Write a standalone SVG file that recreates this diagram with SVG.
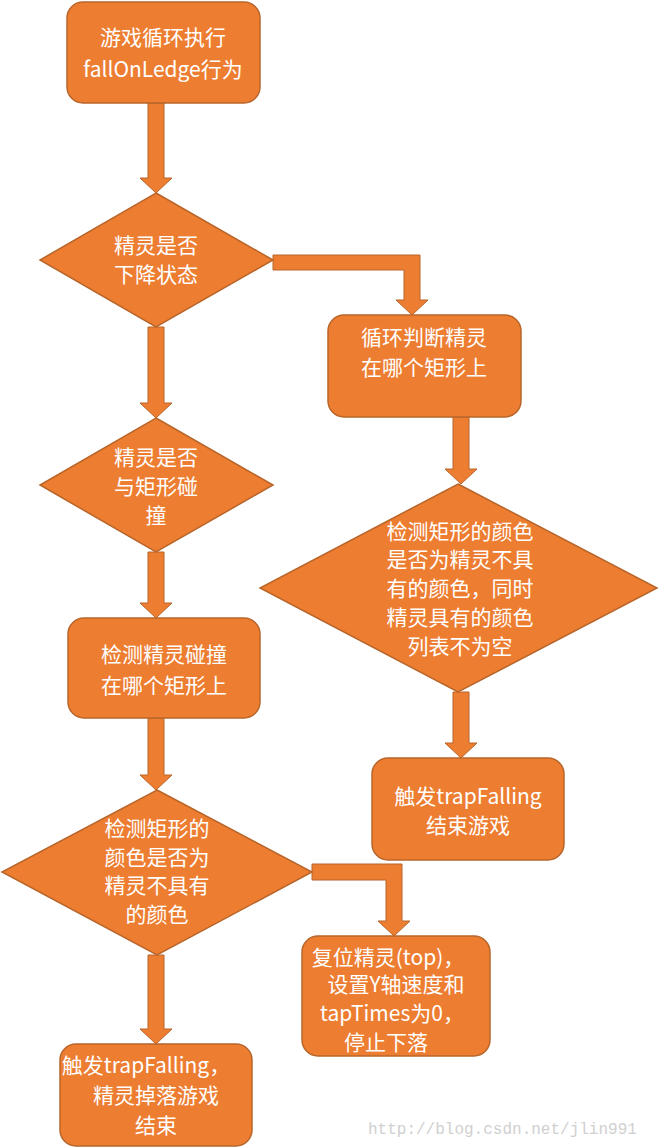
<svg xmlns="http://www.w3.org/2000/svg" width="660" height="1148" viewBox="0 0 660 1148">
<style>
.n{fill:#ED7D31;stroke:#B8652A;stroke-width:1.5}
.a{fill:#ED7D31;stroke:#B8652A;stroke-width:1}
text{font-family:"Noto Sans CJK SC","Noto Sans",sans-serif;font-size:21px;fill:#fff;text-anchor:middle}
.w{font-family:"Liberation Mono",monospace;font-size:16px;fill:#d0d0d0;text-anchor:start}
</style>
<rect width="660" height="1148" fill="#fff"/>
<g id="connectors">
<polygon class="a" points="148,103 164,103 164,178 172,178 156,193 140,178 148,178"/>
<polygon class="a" points="148,327 164,327 164,403 172,403 156,418 140,403 148,403"/>
<polygon class="a" points="148,552 164,552 164,603 172,603 156,618 140,603 148,603"/>
<polygon class="a" points="148,718 164,718 164,775 172,775 156,790 140,775 148,775"/>
<polygon class="a" points="148,955 164,955 164,1029 172,1029 156,1044 140,1029 148,1029"/>
<polygon class="a" points="453,417 469,417 469,469 477,469 461,484 445,469 453,469"/>
<polygon class="a" points="453,692 469,692 469,743 477,743 461,758 445,743 453,743"/>
<polygon class="a" points="273,255 420,255 420,300 428,300 412,315 396,300 404,300 404,270 273,270"/>
<polygon class="a" points="312,864 402,864 402,921 410,921 394,936 378,921 386,921 386,880 312,880"/>
</g>
<g id="n1"><rect class="n" x="67" y="2" width="193" height="101" rx="16"/><text x="163" y="45">游戏循环执行</text><text x="163" y="77">fallOnLedge行为</text></g>
<g id="n2"><polygon class="n" points="156,193 273,260 156,327 40,260"/><text x="156" y="253">精灵是否</text><text x="156" y="282">下降状态</text></g>
<g id="n3"><polygon class="n" points="156,418 273,485 156,552 40,485"/><text x="156" y="465">精灵是否</text><text x="156" y="494">与矩形碰</text><text x="156" y="523">撞</text></g>
<g id="n4"><rect class="n" x="68" y="618" width="192" height="100" rx="16"/><text x="164" y="662">检测精灵碰撞</text><text x="164" y="693">在哪个矩形上</text></g>
<g id="n5"><polygon class="n" points="157,790 312,872 157,955 2,872"/><text x="157" y="836">检测矩形的</text><text x="157" y="865">颜色是否为</text><text x="157" y="893">精灵不具有</text><text x="157" y="922">的颜色</text></g>
<g id="n6"><rect class="n" x="60" y="1044" width="192" height="102" rx="16"/><text x="146" y="1073">触发trapFalling，</text><text x="156" y="1103">精灵掉落游戏</text><text x="156" y="1133">结束</text></g>
<g id="n7"><rect class="n" x="328" y="315" width="193" height="102" rx="16"/><text x="424" y="345">循环判断精灵</text><text x="424" y="375">在哪个矩形上</text></g>
<g id="n8"><polygon class="n" points="458,484 657,588 458,692 260,588"/><text x="460" y="539">检测矩形的颜色</text><text x="460" y="567">是否为精灵不具</text><text x="460" y="596">有的颜色，同时</text><text x="460" y="625">精灵具有的颜色</text><text x="460" y="654">列表不为空</text></g>
<g id="n9"><rect class="n" x="372" y="758" width="192" height="102" rx="16"/><text x="468" y="804">触发trapFalling</text><text x="468" y="833">结束游戏</text></g>
<g id="n10"><rect class="n" x="302" y="936" width="188" height="120" rx="16"/><text x="388" y="965">复位精灵(top)，</text><text x="396" y="992">设置Y轴速度和</text><text x="392" y="1021">tapTimes为0，</text><text x="386" y="1050">停止下落</text></g>
<text class="w" x="368" y="1134">http://blog.csdn.net/jlin991</text>
</svg>
